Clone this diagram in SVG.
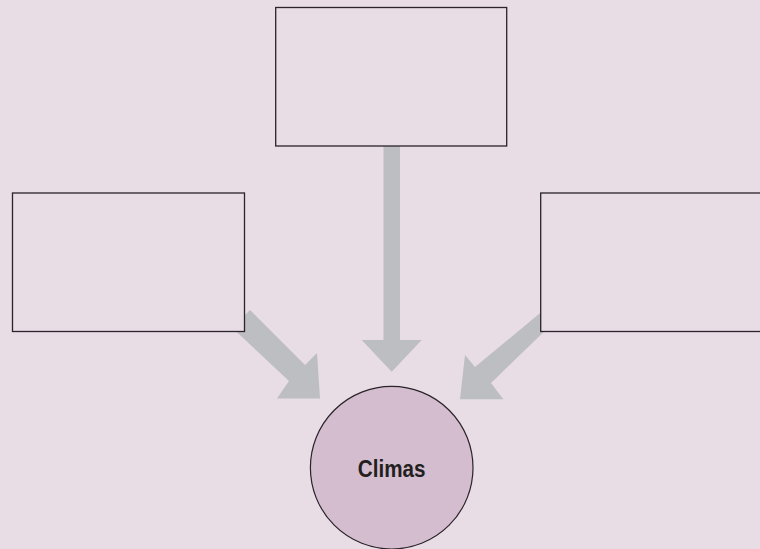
<svg xmlns="http://www.w3.org/2000/svg" width="760" height="549" viewBox="0 0 760 549">
<style>
.box{fill:#e8dce5;stroke:#2a2329;stroke-width:1.3}
.arrow{fill:#bcbec1}
.lbl{font-family:"Liberation Sans",Arial,sans-serif;font-weight:bold;font-size:24px;fill:#231f20;text-anchor:middle}
</style>
<rect width="760" height="549" fill="#e8dce5"/>
<g id="connectors">
<polygon class="arrow" points="383.5,140 400,140 400,340 421.7,340 391.7,371.7 361.7,340 383.5,340"/>
<polygon class="arrow" points="238,322 250,310 305,365 317,353 320,398.5 277,398.5 289,381 226,322"/>
<polygon class="arrow" points="556,320 545,309 475,367 465,355 460,399.3 503.3,399.3 491,383"/>
</g>
<g id="node-top"><rect class="box" x="275.7" y="7.5" width="231" height="138.5"/></g>
<g id="node-left"><rect class="box" x="12.5" y="193" width="232" height="138.5"/></g>
<g id="node-right"><rect class="box" x="540.7" y="193" width="240" height="138.5"/></g>
<g id="node-climas">
<circle cx="391.7" cy="467.7" r="81.3" fill="#d3bdce" stroke="#2a2329" stroke-width="1.2"/>
<text class="lbl" transform="translate(391.7,476.7) scale(0.86,1)" x="0" y="0">Climas</text>
</g>
</svg>
